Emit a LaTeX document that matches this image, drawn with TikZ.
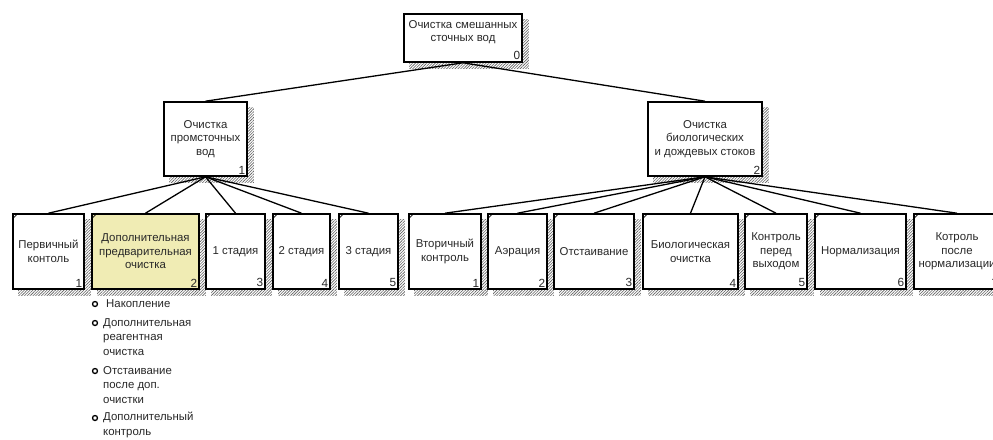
\documentclass[tikz,border=0pt]{standalone}
\usepackage{fontspec}
\setmainfont{Liberation Sans}
\usetikzlibrary{patterns.meta,backgrounds}
\definecolor{ylw}{RGB}{240,236,180}
\definecolor{txtc}{RGB}{40,40,40}
\definecolor{hatch}{RGB}{95,95,95}
\begin{document}
\begin{tikzpicture}[x=1pt,y=-1pt,
  box/.style={draw=black, line width=1.6pt, fill=white, inner sep=1pt, align=center, text=txtc,
              font=\fontsize{11.4}{13.5}\selectfont},
  lbl/.style={inner sep=0pt, align=center, text=txtc, font=\fontsize{11.4}{13.5}\selectfont},
  num/.style={anchor=south east, inner sep=2.5pt, text=txtc, font=\fontsize{11.8}{13}\selectfont},
  conn/.style={line width=1.3pt, black},
  shade/.style={pattern={Lines[angle=45,distance=2pt,line width=0.6pt]}, pattern color=hatch},
  tick/.style={line width=0.7pt, black},
  itemtxt/.style={anchor=north west, inner sep=0pt, align=left, text=txtc,
              font=\fontsize{11.4}{14.5}\selectfont},
  dot/.style={draw=black, line width=1.3pt, fill=white}
]
\useasboundingbox (0,0) rectangle (993,439);

% top levels
\node[box, minimum width=118pt, minimum height=48pt] (n0) at (463,38) {};
\node[lbl] (n0t) at ([yshift=6pt]n0.center) {Очистка смешанных\\сточных вод};
\node[num] (n0n) at (n0.south east) {0};

\node[box, minimum width=83pt, minimum height=74pt] (n1) at (205.5,139) {Очистка\\промсточных\\вод};
\node[num] (n1n) at (n1.south east) {1};

\node[box, minimum width=114pt, minimum height=74pt] (n2) at (705,139) {Очистка\\биологических\\и дождевых стоков};
\node[num] (n2n) at (n2.south east) {2};

% bottom row, left group
\node[box, minimum width=71pt, minimum height=75pt] (b1) at (48.5,251.5) {Первичный\\контоль};
\node[num] (b1n) at (b1.south east) {1};
\node[box, fill=ylw, minimum width=107pt, minimum height=75pt] (b2) at (145.5,251.5) {Дополнительная\\предварительная\\очистка};
\node[num] (b2n) at (b2.south east) {2};
\node[box, minimum width=59pt, minimum height=75pt] (b3) at (235.5,251.5) {1 стадия};
\node[num] (b3n) at (b3.south east) {3};
\node[box, minimum width=57pt, minimum height=75pt] (b4) at (301.5,251.5) {2 стадия};
\node[num] (b4n) at (b4.south east) {4};
\node[box, minimum width=59pt, minimum height=75pt] (b5) at (368.5,251.5) {3 стадия};
\node[num] (b5n) at (b5.south east) {5};

% bottom row, right group
\node[box, minimum width=72pt, minimum height=75pt] (c1) at (445,251.5) {Вторичный\\контроль};
\node[num] (c1n) at (c1.south east) {1};
\node[box, minimum width=59pt, minimum height=75pt] (c2) at (517.5,251.5) {Аэрация};
\node[num] (c2n) at (c2.south east) {2};
\node[box, minimum width=80pt, minimum height=75pt] (c3) at (594,251.5) {Отстаивание};
\node[num] (c3n) at (c3.south east) {3};
\node[box, minimum width=95pt, minimum height=75pt] (c4) at (690.5,251.5) {Биологическая\\очистка};
\node[num] (c4n) at (c4.south east) {4};
\node[box, minimum width=62pt, minimum height=75pt] (c5) at (776,251.5) {Контроль\\перед\\выходом};
\node[num] (c5n) at (c5.south east) {5};
\node[box, minimum width=91pt, minimum height=75pt] (c6) at (860.5,251.5) {Нормализация};
\node[num] (c6n) at (c6.south east) {6};
\node[box, minimum width=86pt, minimum height=75pt] (c7) at (957,251.5) {Котроль\\после\\нормализации};
\node[num] (c7n) at (c7.south east) {7};

% background and shadows
\begin{scope}[on background layer]
\fill[white] (0,0) rectangle (993,439);
\foreach \n in {n0,n1,n2,b1,b2,b3,b4,b5,c1,c2,c3,c4,c5,c6,c7}{
  \fill[shade] ([shift={(6,6)}]\n.north west) rectangle ([shift={(6,6)}]\n.south east);
}
\end{scope}

% corner ticks
\foreach \n in {b1,b2,b3,b4,b5,c1,c2,c3,c4,c5,c6,c7}{
  \draw[tick] ([yshift=-6pt]\n.north west) -- ([xshift=6pt]\n.north west);
}

% connectors
\draw[conn] (n0.south) -- (n1.north);
\draw[conn] (n0.south) -- (n2.north);
\foreach \c in {b1,b2,b3,b4,b5}{ \draw[conn] (n1.south) -- (\c.north); }
\foreach \c in {c1,c2,c3,c4,c5,c6,c7}{ \draw[conn] (n2.south) -- (\c.north); }

% bullet list
\coordinate (d1) at (95,304);
\coordinate (d2) at (95,323);
\coordinate (d3) at (95,371);
\coordinate (d4) at (95,418);
\foreach \d in {d1,d2,d3,d4}{ \draw[dot] (\d) circle (2.5pt); }
\node[itemtxt] (i1) at (106,299) {Накопление};
\node[itemtxt] (i2) at (103,318) {Дополнительная\\реагентная\\очистка};
\node[itemtxt] (i3) at (103,366) {Отстаивание\\после доп.\\очистки};
\node[itemtxt] (i4) at (103,412) {Дополнительный\\контроль};
\end{tikzpicture}
\end{document}
